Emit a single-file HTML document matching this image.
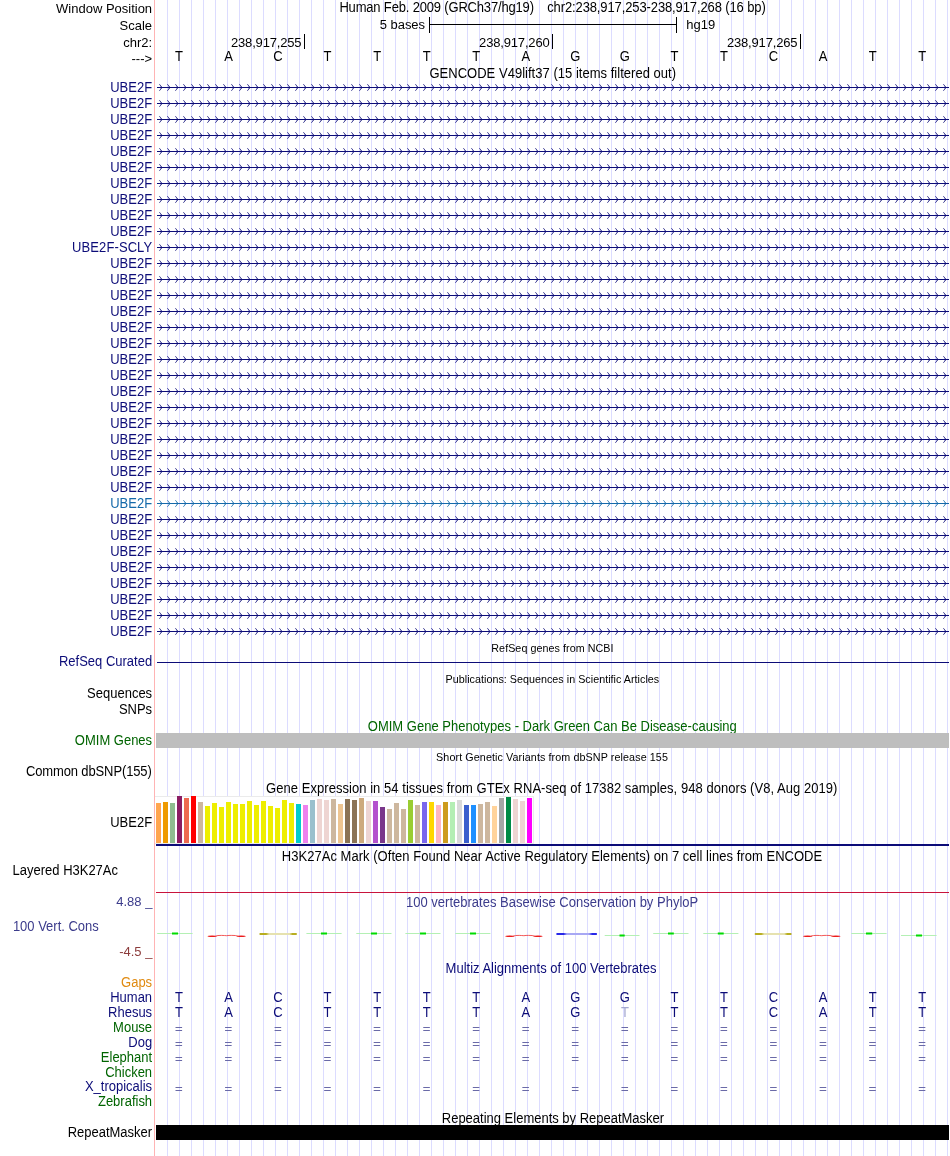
<!DOCTYPE html>
<html><head><meta charset="utf-8"><title>UCSC Genome Browser</title>
<style>
html,body{margin:0;padding:0;background:#fff;}
body{width:950px;height:1156px;overflow:hidden;}
svg{display:block;font-family:'Liberation Sans', Arial, Helvetica, sans-serif;font-size:13px;}
</style></head>
<body>
<svg width="950" height="1156" viewBox="0 0 950 1156">
<rect x="0" y="0" width="950" height="1156" fill="#fff"/>
<path d="M167.5 0V1156 M179.5 0V1156 M191.5 0V1156 M203.5 0V1156 M215.5 0V1156 M227.5 0V1156 M239.5 0V1156 M251.5 0V1156 M263.5 0V1156 M275.5 0V1156 M287.5 0V1156 M299.5 0V1156 M311.5 0V1156 M323.5 0V1156 M335.5 0V1156 M347.5 0V1156 M359.5 0V1156 M371.5 0V1156 M383.5 0V1156 M395.5 0V1156 M407.5 0V1156 M419.5 0V1156 M431.5 0V1156 M443.5 0V1156 M455.5 0V1156 M467.5 0V1156 M479.5 0V1156 M491.5 0V1156 M503.5 0V1156 M515.5 0V1156 M527.5 0V1156 M539.5 0V1156 M551.5 0V1156 M563.5 0V1156 M575.5 0V1156 M587.5 0V1156 M599.5 0V1156 M611.5 0V1156 M623.5 0V1156 M635.5 0V1156 M647.5 0V1156 M659.5 0V1156 M671.5 0V1156 M683.5 0V1156 M695.5 0V1156 M707.5 0V1156 M719.5 0V1156 M731.5 0V1156 M743.5 0V1156 M755.5 0V1156 M767.5 0V1156 M779.5 0V1156 M791.5 0V1156 M803.5 0V1156 M815.5 0V1156 M827.5 0V1156 M839.5 0V1156 M851.5 0V1156 M863.5 0V1156 M875.5 0V1156 M887.5 0V1156 M899.5 0V1156 M911.5 0V1156 M923.5 0V1156 M935.5 0V1156 M947.5 0V1156" stroke="#dcdcff" stroke-width="1" fill="none"/>
<path d="M154.5 0V1156" stroke="#ffb4b4" stroke-width="1"/>
<text transform="matrix(1,0,0,1.05,152.1,12.9)" text-anchor="end">Window Position</text>
<text transform="matrix(1,0,0,1.05,152.1,29.7)" text-anchor="end">Scale</text>
<text transform="matrix(1,0,0,1.05,152.1,46.8)" text-anchor="end">chr2:</text>
<text x="152.1" y="62.6" text-anchor="end">---&gt;</text>
<text transform="matrix(1,0,0,1.08,339.4,12.1)" textLength="194.6" lengthAdjust="spacing">Human Feb. 2009 (GRCh37/hg19)</text>
<text transform="matrix(1,0,0,1.08,547.2,12.1)" textLength="218.6" lengthAdjust="spacing">chr2:238,917,253-238,917,268 (16 bp)</text>
<text transform="matrix(1,0,0,1.02,379.8,29)" textLength="45.2" lengthAdjust="spacing">5 bases</text>
<text transform="matrix(1,0,0,1.02,686.2,29)">hg19</text>
<path d="M429.5 17V33M676.5 17V33M429.5 24.5H676.5" stroke="#000" stroke-width="1" fill="none"/>
<text x="231.0" y="47" textLength="70.6" lengthAdjust="spacing">238,917,255</text>
<path d="M304.5 34V49" stroke="#000" stroke-width="1"/>
<text x="479.1" y="47" textLength="70.6" lengthAdjust="spacing">238,917,260</text>
<path d="M552.5 34V49" stroke="#000" stroke-width="1"/>
<text x="726.9" y="47" textLength="70.6" lengthAdjust="spacing">238,917,265</text>
<path d="M800.5 34V49" stroke="#000" stroke-width="1"/>
<text transform="matrix(1,0,0,1.08,178.9,60.8)" text-anchor="middle">T</text>
<text transform="matrix(1,0,0,1.08,228.45,60.8)" text-anchor="middle">A</text>
<text transform="matrix(1,0,0,1.08,278.0,60.8)" text-anchor="middle">C</text>
<text transform="matrix(1,0,0,1.08,327.55,60.8)" text-anchor="middle">T</text>
<text transform="matrix(1,0,0,1.08,377.1,60.8)" text-anchor="middle">T</text>
<text transform="matrix(1,0,0,1.08,426.65,60.8)" text-anchor="middle">T</text>
<text transform="matrix(1,0,0,1.08,476.2,60.8)" text-anchor="middle">T</text>
<text transform="matrix(1,0,0,1.08,525.75,60.8)" text-anchor="middle">A</text>
<text transform="matrix(1,0,0,1.08,575.3,60.8)" text-anchor="middle">G</text>
<text transform="matrix(1,0,0,1.08,624.85,60.8)" text-anchor="middle">G</text>
<text transform="matrix(1,0,0,1.08,674.4,60.8)" text-anchor="middle">T</text>
<text transform="matrix(1,0,0,1.08,723.95,60.8)" text-anchor="middle">T</text>
<text transform="matrix(1,0,0,1.08,773.5,60.8)" text-anchor="middle">C</text>
<text transform="matrix(1,0,0,1.08,823.05,60.8)" text-anchor="middle">A</text>
<text transform="matrix(1,0,0,1.08,872.6,60.8)" text-anchor="middle">T</text>
<text transform="matrix(1,0,0,1.08,922.15,60.8)" text-anchor="middle">T</text>
<text transform="matrix(1,0,0,1.08,429.5,77.7)" textLength="246.6" lengthAdjust="spacing">GENCODE V49lift37 (15 items filtered out)</text>
<defs>
<pattern id="pn" patternUnits="userSpaceOnUse" x="156" y="79" width="8" height="16"><path d="M0 8.5H8" stroke="#0c0c78" stroke-width="1" fill="none"/><path d="M3.4 5.2L6 8.5L3.4 11.8M5 7.5V9.5" stroke="#0c0c78" stroke-width="0.8" fill="none"/></pattern>
<pattern id="pt" patternUnits="userSpaceOnUse" x="156" y="79" width="8" height="16"><path d="M0 8.5H8" stroke="#1469aa" stroke-width="1" fill="none"/><path d="M3.4 5.2L6 8.5L3.4 11.8M5 7.5V9.5" stroke="#1469aa" stroke-width="0.8" fill="none"/></pattern>
</defs>
<rect x="157" y="79" width="792" height="416" fill="url(#pn)"/>
<rect x="157" y="495" width="792" height="16" fill="url(#pt)"/>
<rect x="157" y="511" width="792" height="128" fill="url(#pn)"/>
<text transform="matrix(1,0,0,1.08,152.1,91.5)" text-anchor="end" fill="#0c0c78">UBE2F</text>
<text transform="matrix(1,0,0,1.08,152.1,107.5)" text-anchor="end" fill="#0c0c78">UBE2F</text>
<text transform="matrix(1,0,0,1.08,152.1,123.5)" text-anchor="end" fill="#0c0c78">UBE2F</text>
<text transform="matrix(1,0,0,1.08,152.1,139.5)" text-anchor="end" fill="#0c0c78">UBE2F</text>
<text transform="matrix(1,0,0,1.08,152.1,155.5)" text-anchor="end" fill="#0c0c78">UBE2F</text>
<text transform="matrix(1,0,0,1.08,152.1,171.5)" text-anchor="end" fill="#0c0c78">UBE2F</text>
<text transform="matrix(1,0,0,1.08,152.1,187.5)" text-anchor="end" fill="#0c0c78">UBE2F</text>
<text transform="matrix(1,0,0,1.08,152.1,203.5)" text-anchor="end" fill="#0c0c78">UBE2F</text>
<text transform="matrix(1,0,0,1.08,152.1,219.5)" text-anchor="end" fill="#0c0c78">UBE2F</text>
<text transform="matrix(1,0,0,1.08,152.1,235.5)" text-anchor="end" fill="#0c0c78">UBE2F</text>
<text transform="matrix(1,0,0,1.08,152.1,251.5)" text-anchor="end" fill="#0c0c78" textLength="80.0" lengthAdjust="spacing">UBE2F-SCLY</text>
<text transform="matrix(1,0,0,1.08,152.1,267.5)" text-anchor="end" fill="#0c0c78">UBE2F</text>
<text transform="matrix(1,0,0,1.08,152.1,283.5)" text-anchor="end" fill="#0c0c78">UBE2F</text>
<text transform="matrix(1,0,0,1.08,152.1,299.5)" text-anchor="end" fill="#0c0c78">UBE2F</text>
<text transform="matrix(1,0,0,1.08,152.1,315.5)" text-anchor="end" fill="#0c0c78">UBE2F</text>
<text transform="matrix(1,0,0,1.08,152.1,331.5)" text-anchor="end" fill="#0c0c78">UBE2F</text>
<text transform="matrix(1,0,0,1.08,152.1,347.5)" text-anchor="end" fill="#0c0c78">UBE2F</text>
<text transform="matrix(1,0,0,1.08,152.1,363.5)" text-anchor="end" fill="#0c0c78">UBE2F</text>
<text transform="matrix(1,0,0,1.08,152.1,379.5)" text-anchor="end" fill="#0c0c78">UBE2F</text>
<text transform="matrix(1,0,0,1.08,152.1,395.5)" text-anchor="end" fill="#0c0c78">UBE2F</text>
<text transform="matrix(1,0,0,1.08,152.1,411.5)" text-anchor="end" fill="#0c0c78">UBE2F</text>
<text transform="matrix(1,0,0,1.08,152.1,427.5)" text-anchor="end" fill="#0c0c78">UBE2F</text>
<text transform="matrix(1,0,0,1.08,152.1,443.5)" text-anchor="end" fill="#0c0c78">UBE2F</text>
<text transform="matrix(1,0,0,1.08,152.1,459.5)" text-anchor="end" fill="#0c0c78">UBE2F</text>
<text transform="matrix(1,0,0,1.08,152.1,475.5)" text-anchor="end" fill="#0c0c78">UBE2F</text>
<text transform="matrix(1,0,0,1.08,152.1,491.5)" text-anchor="end" fill="#0c0c78">UBE2F</text>
<text transform="matrix(1,0,0,1.08,152.1,507.5)" text-anchor="end" fill="#1469aa">UBE2F</text>
<text transform="matrix(1,0,0,1.08,152.1,523.5)" text-anchor="end" fill="#0c0c78">UBE2F</text>
<text transform="matrix(1,0,0,1.08,152.1,539.5)" text-anchor="end" fill="#0c0c78">UBE2F</text>
<text transform="matrix(1,0,0,1.08,152.1,555.5)" text-anchor="end" fill="#0c0c78">UBE2F</text>
<text transform="matrix(1,0,0,1.08,152.1,571.5)" text-anchor="end" fill="#0c0c78">UBE2F</text>
<text transform="matrix(1,0,0,1.08,152.1,587.5)" text-anchor="end" fill="#0c0c78">UBE2F</text>
<text transform="matrix(1,0,0,1.08,152.1,603.5)" text-anchor="end" fill="#0c0c78">UBE2F</text>
<text transform="matrix(1,0,0,1.08,152.1,619.5)" text-anchor="end" fill="#0c0c78">UBE2F</text>
<text transform="matrix(1,0,0,1.08,152.1,635.5)" text-anchor="end" fill="#0c0c78">UBE2F</text>
<text transform="matrix(1,0,0,1.08,491.3,652)" font-size="10.75" textLength="122.2" lengthAdjust="spacing">RefSeq genes from NCBI</text>
<text transform="matrix(1,0,0,1.08,152.1,666.4)" text-anchor="end" fill="#0c0c78">RefSeq Curated</text>
<path d="M157 662.5H949" stroke="#0c0c78" stroke-width="1"/>
<text transform="matrix(1,0,0,1.08,445.6,682.7)" font-size="10.75" textLength="213.6" lengthAdjust="spacing">Publications: Sequences in Scientific Articles</text>
<text transform="matrix(1,0,0,1.08,152.1,697.7)" text-anchor="end">Sequences</text>
<text transform="matrix(1,0,0,1.08,152.1,713.6)" text-anchor="end">SNPs</text>
<text transform="matrix(1,0,0,1.08,367.8,730.9)" fill="#006400" textLength="369.0" lengthAdjust="spacing">OMIM Gene Phenotypes - Dark Green Can Be Disease-causing</text>
<text transform="matrix(1,0,0,1.08,152.1,744.8)" text-anchor="end" fill="#006400">OMIM Genes</text>
<rect x="156" y="733" width="793" height="15" fill="#bebebe"/>
<text transform="matrix(1,0,0,1.08,436.1,760.9)" font-size="10.75" textLength="231.8" lengthAdjust="spacing">Short Genetic Variants from dbSNP release 155</text>
<text transform="matrix(1,0,0,1.08,25.9,775.8)" textLength="125.9" lengthAdjust="spacing">Common dbSNP(155)</text>
<text transform="matrix(1,0,0,1.08,266.1,792.8)" textLength="571.3" lengthAdjust="spacing">Gene Expression in 54 tissues from GTEx RNA-seq of 17382 samples, 948 donors (V8, Aug 2019)</text>
<text transform="matrix(1,0,0,1.08,152.1,826.9)" text-anchor="end">UBE2F</text>
<rect x="155" y="796" width="379" height="48" fill="#fff"/>
<path d="M155 796.5H533.5V843.5H155" stroke="#ebebeb" stroke-width="1" fill="none"/>
<rect x="156" y="803" width="5" height="40" fill="#FFA54F"/>
<rect x="163" y="802" width="5" height="41" fill="#EE9A00"/>
<rect x="170" y="803" width="5" height="40" fill="#8FBC8F"/>
<rect x="177" y="796" width="5" height="47" fill="#8B1C62"/>
<rect x="184" y="798" width="5" height="45" fill="#EE6A50"/>
<rect x="191" y="796" width="5" height="47" fill="#FF0000"/>
<rect x="198" y="802" width="5" height="41" fill="#CDB79E"/>
<rect x="205" y="806" width="5" height="37" fill="#EEEE00"/>
<rect x="212" y="803" width="5" height="40" fill="#EEEE00"/>
<rect x="219" y="807" width="5" height="36" fill="#EEEE00"/>
<rect x="226" y="802" width="5" height="41" fill="#EEEE00"/>
<rect x="233" y="804" width="5" height="39" fill="#EEEE00"/>
<rect x="240" y="804" width="5" height="39" fill="#EEEE00"/>
<rect x="247" y="801" width="5" height="42" fill="#EEEE00"/>
<rect x="254" y="805" width="5" height="38" fill="#EEEE00"/>
<rect x="261" y="801" width="5" height="42" fill="#EEEE00"/>
<rect x="268" y="806" width="5" height="37" fill="#EEEE00"/>
<rect x="275" y="808" width="5" height="35" fill="#EEEE00"/>
<rect x="282" y="800" width="5" height="43" fill="#EEEE00"/>
<rect x="289" y="803" width="5" height="40" fill="#EEEE00"/>
<rect x="296" y="804" width="5" height="39" fill="#00CDCD"/>
<rect x="303" y="805" width="5" height="38" fill="#EE82EE"/>
<rect x="310" y="800" width="5" height="43" fill="#9AC0CD"/>
<rect x="317" y="799" width="5" height="44" fill="#EED5D2"/>
<rect x="324" y="800" width="5" height="43" fill="#EED5D2"/>
<rect x="331" y="799" width="5" height="44" fill="#CDB79E"/>
<rect x="338" y="804" width="5" height="39" fill="#EEC591"/>
<rect x="345" y="799" width="5" height="44" fill="#8B7355"/>
<rect x="352" y="800" width="5" height="43" fill="#8B7355"/>
<rect x="359" y="798" width="5" height="45" fill="#CDAA7D"/>
<rect x="366" y="801" width="5" height="42" fill="#EED5D2"/>
<rect x="373" y="801" width="5" height="42" fill="#B452CD"/>
<rect x="380" y="807" width="5" height="36" fill="#7A378B"/>
<rect x="387" y="809" width="5" height="34" fill="#CDB79E"/>
<rect x="394" y="803" width="5" height="40" fill="#CDB79E"/>
<rect x="401" y="809" width="5" height="34" fill="#CDB79E"/>
<rect x="408" y="800" width="5" height="43" fill="#9ACD32"/>
<rect x="415" y="805" width="5" height="38" fill="#CDB79E"/>
<rect x="422" y="802" width="5" height="41" fill="#7A67EE"/>
<rect x="429" y="802" width="5" height="41" fill="#FFD700"/>
<rect x="436" y="805" width="5" height="38" fill="#FFB6C1"/>
<rect x="443" y="802" width="5" height="41" fill="#CD9B1D"/>
<rect x="450" y="802" width="5" height="41" fill="#B4EEB4"/>
<rect x="457" y="800" width="5" height="43" fill="#D9D9D9"/>
<rect x="464" y="805" width="5" height="38" fill="#3A5FCD"/>
<rect x="471" y="805" width="5" height="38" fill="#1E90FF"/>
<rect x="478" y="804" width="5" height="39" fill="#CDB79E"/>
<rect x="485" y="802" width="5" height="41" fill="#CDB79E"/>
<rect x="492" y="806" width="5" height="37" fill="#FFD39B"/>
<rect x="499" y="798" width="5" height="45" fill="#A6A6A6"/>
<rect x="506" y="797" width="5" height="46" fill="#008B45"/>
<rect x="513" y="799" width="5" height="44" fill="#EED5D2"/>
<rect x="520" y="801" width="5" height="42" fill="#EED5D2"/>
<rect x="527" y="798" width="5" height="45" fill="#FF00FF"/>
<rect x="156" y="844" width="793" height="2" fill="#0c0c78"/>
<text transform="matrix(1,0,0,1.08,281.8,861)" textLength="540.4" lengthAdjust="spacing">H3K27Ac Mark (Often Found Near Active Regulatory Elements) on 7 cell lines from ENCODE</text>
<text transform="matrix(1,0,0,1.08,12.6,874.6)">Layered H3K27Ac</text>
<path d="M156 892.5H949" stroke="#c8143c" stroke-width="1"/>
<text transform="matrix(1,0,0,1.08,406.0,906.6)" fill="#3c3c8c" textLength="292.2" lengthAdjust="spacing">100 vertebrates Basewise Conservation by PhyloP</text>
<text x="152.4" y="906" text-anchor="end" fill="#3c3c8c">4.88 _</text>
<text transform="matrix(1,0,0,1.08,12.9,930.8)" fill="#3c3c8c">100 Vert. Cons</text>
<text x="152.4" y="956.3" text-anchor="end" fill="#8c3c3c">-4.5 _</text>
<rect x="157.2" y="933" width="35.400000000000006" height="1" fill="#b4f0b4"/>
<rect x="172" y="932.5" width="6" height="2" fill="#00dc00"/>
<rect x="306.4" y="933" width="35.200000000000045" height="1" fill="#b4f0b4"/>
<rect x="321" y="932.5" width="6" height="2" fill="#00dc00"/>
<rect x="356.3" y="933" width="35.19999999999999" height="1" fill="#b4f0b4"/>
<rect x="371" y="932.5" width="6" height="2" fill="#00dc00"/>
<rect x="405.4" y="933" width="35.10000000000002" height="1" fill="#b4f0b4"/>
<rect x="420" y="932.5" width="6" height="2" fill="#00dc00"/>
<rect x="455.3" y="933" width="35.099999999999966" height="1" fill="#b4f0b4"/>
<rect x="470" y="932.5" width="6" height="2" fill="#00dc00"/>
<rect x="604.7" y="935" width="34.799999999999955" height="1" fill="#b4f0b4"/>
<rect x="619.5" y="934.5" width="5.2000000000000455" height="2" fill="#00dc00"/>
<rect x="653.2" y="933" width="35.299999999999955" height="1" fill="#b4f0b4"/>
<rect x="668" y="932.5" width="5.7999999999999545" height="2" fill="#00dc00"/>
<rect x="703.3" y="933" width="35.10000000000002" height="1" fill="#b4f0b4"/>
<rect x="717.8" y="932.5" width="5.900000000000091" height="2" fill="#00dc00"/>
<rect x="851.3" y="933" width="35.30000000000007" height="1" fill="#b4f0b4"/>
<rect x="866" y="932.5" width="6.2000000000000455" height="2" fill="#00dc00"/>
<rect x="901" y="935" width="35.60000000000002" height="1" fill="#b4f0b4"/>
<rect x="916" y="934.5" width="6" height="2" fill="#00dc00"/>
<ellipse cx="212.1" cy="936.2" rx="4.6" ry="0.8" fill="#ec1c1c"/>
<ellipse cx="241.2" cy="936.2" rx="4.6" ry="0.8" fill="#ec1c1c"/>
<path d="M215.5 936.1Q217.5 935.3 221.5 935.4Q224.7 935.5 226.7 935.7Q228.7 935.3 231.8 935.4Q235.8 935.3 237.8 936.1" stroke="#f03030" stroke-width="1" fill="none" opacity="0.8"/>
<ellipse cx="509.8" cy="936.2" rx="4.6" ry="0.8" fill="#ec1c1c"/>
<ellipse cx="538.0" cy="936.2" rx="4.6" ry="0.8" fill="#ec1c1c"/>
<path d="M513.2 936.1Q515.2 935.3 519.2 935.4Q521.9 935.5 523.9 935.7Q525.9 935.3 528.6 935.4Q532.6 935.3 534.6 936.1" stroke="#f03030" stroke-width="1" fill="none" opacity="0.8"/>
<ellipse cx="807.6" cy="936.2" rx="4.6" ry="0.8" fill="#ec1c1c"/>
<ellipse cx="835.9" cy="936.2" rx="4.6" ry="0.8" fill="#ec1c1c"/>
<path d="M811.0 936.1Q813.0 935.3 817.0 935.4Q819.8 935.5 821.8 935.7Q823.8 935.3 826.5 935.4Q830.5 935.3 832.5 936.1" stroke="#f03030" stroke-width="1" fill="none" opacity="0.8"/>
<linearGradient id="go1" x1="0" x2="1" y1="0" y2="0"><stop offset="0" stop-color="#b8ae20"/><stop offset="0.18" stop-color="#b8ae20"/><stop offset="0.26" stop-color="#e6e2b0"/><stop offset="0.8" stop-color="#e6e2b0"/><stop offset="0.88" stop-color="#b8ae20"/><stop offset="1" stop-color="#b8ae20"/></linearGradient>
<rect x="259.3" y="933" width="37.69999999999999" height="2" rx="1" fill="url(#go1)"/>
<linearGradient id="go2" x1="0" x2="1" y1="0" y2="0"><stop offset="0" stop-color="#b8ae20"/><stop offset="0.18" stop-color="#b8ae20"/><stop offset="0.26" stop-color="#e6e2b0"/><stop offset="0.8" stop-color="#e6e2b0"/><stop offset="0.88" stop-color="#b8ae20"/><stop offset="1" stop-color="#b8ae20"/></linearGradient>
<rect x="754.6" y="933" width="37.10000000000002" height="2" rx="1" fill="url(#go2)"/>
<linearGradient id="gb1" x1="0" x2="1" y1="0" y2="0"><stop offset="0" stop-color="#2828e8"/><stop offset="0.18" stop-color="#2828e8"/><stop offset="0.26" stop-color="#a8a8f4"/><stop offset="0.8" stop-color="#a8a8f4"/><stop offset="0.88" stop-color="#2828e8"/><stop offset="1" stop-color="#2828e8"/></linearGradient>
<rect x="556.2" y="933" width="40.89999999999998" height="2" rx="1" fill="url(#gb1)"/>
<text transform="matrix(1,0,0,1.08,445.6,972.8)" fill="#0c0c78">Multiz Alignments of 100 Vertebrates</text>
<text transform="matrix(1,0,0,1.08,152.1,986.8)" text-anchor="end" fill="#e08a10">Gaps</text>
<text transform="matrix(1,0,0,1.08,152.1,1001.75)" text-anchor="end" fill="#0c0c78">Human</text>
<text transform="matrix(1,0,0,1.08,152.1,1016.7)" text-anchor="end" fill="#0c0c78">Rhesus</text>
<text transform="matrix(1,0,0,1.08,152.1,1031.65)" text-anchor="end" fill="#006400">Mouse</text>
<text transform="matrix(1,0,0,1.08,152.1,1046.6)" text-anchor="end" fill="#0c0c78">Dog</text>
<text transform="matrix(1,0,0,1.08,152.1,1061.55)" text-anchor="end" fill="#006400">Elephant</text>
<text transform="matrix(1,0,0,1.08,152.1,1076.5)" text-anchor="end" fill="#006400">Chicken</text>
<text transform="matrix(1,0,0,1.08,152.1,1091.45)" text-anchor="end" fill="#0c0c78">X_tropicalis</text>
<text transform="matrix(1,0,0,1.08,152.1,1106.4)" text-anchor="end" fill="#006400">Zebrafish</text>
<text transform="matrix(1,0,0,1.08,178.9,1001.8)" text-anchor="middle" fill="#0c0c78">T</text>
<text transform="matrix(1,0,0,1.08,178.9,1016.7)" text-anchor="middle" fill="#0c0c78">T</text>
<path d="M175.5 1027.5H182.1M175.5 1030.5H182.1" stroke="#6a6aa8" stroke-width="1"/>
<path d="M175.5 1042.5H182.1M175.5 1045.5H182.1" stroke="#6a6aa8" stroke-width="1"/>
<path d="M175.5 1057.5H182.1M175.5 1060.5H182.1" stroke="#6a6aa8" stroke-width="1"/>
<path d="M175.5 1087.5H182.1M175.5 1090.5H182.1" stroke="#6a6aa8" stroke-width="1"/>
<text transform="matrix(1,0,0,1.08,228.45,1001.8)" text-anchor="middle" fill="#0c0c78">A</text>
<text transform="matrix(1,0,0,1.08,228.45,1016.7)" text-anchor="middle" fill="#0c0c78">A</text>
<path d="M225.04999999999998 1027.5H231.64999999999998M225.04999999999998 1030.5H231.64999999999998" stroke="#6a6aa8" stroke-width="1"/>
<path d="M225.04999999999998 1042.5H231.64999999999998M225.04999999999998 1045.5H231.64999999999998" stroke="#6a6aa8" stroke-width="1"/>
<path d="M225.04999999999998 1057.5H231.64999999999998M225.04999999999998 1060.5H231.64999999999998" stroke="#6a6aa8" stroke-width="1"/>
<path d="M225.04999999999998 1087.5H231.64999999999998M225.04999999999998 1090.5H231.64999999999998" stroke="#6a6aa8" stroke-width="1"/>
<text transform="matrix(1,0,0,1.08,278.0,1001.8)" text-anchor="middle" fill="#0c0c78">C</text>
<text transform="matrix(1,0,0,1.08,278.0,1016.7)" text-anchor="middle" fill="#0c0c78">C</text>
<path d="M274.6 1027.5H281.2M274.6 1030.5H281.2" stroke="#6a6aa8" stroke-width="1"/>
<path d="M274.6 1042.5H281.2M274.6 1045.5H281.2" stroke="#6a6aa8" stroke-width="1"/>
<path d="M274.6 1057.5H281.2M274.6 1060.5H281.2" stroke="#6a6aa8" stroke-width="1"/>
<path d="M274.6 1087.5H281.2M274.6 1090.5H281.2" stroke="#6a6aa8" stroke-width="1"/>
<text transform="matrix(1,0,0,1.08,327.55,1001.8)" text-anchor="middle" fill="#0c0c78">T</text>
<text transform="matrix(1,0,0,1.08,327.55,1016.7)" text-anchor="middle" fill="#0c0c78">T</text>
<path d="M324.15000000000003 1027.5H330.75M324.15000000000003 1030.5H330.75" stroke="#6a6aa8" stroke-width="1"/>
<path d="M324.15000000000003 1042.5H330.75M324.15000000000003 1045.5H330.75" stroke="#6a6aa8" stroke-width="1"/>
<path d="M324.15000000000003 1057.5H330.75M324.15000000000003 1060.5H330.75" stroke="#6a6aa8" stroke-width="1"/>
<path d="M324.15000000000003 1087.5H330.75M324.15000000000003 1090.5H330.75" stroke="#6a6aa8" stroke-width="1"/>
<text transform="matrix(1,0,0,1.08,377.1,1001.8)" text-anchor="middle" fill="#0c0c78">T</text>
<text transform="matrix(1,0,0,1.08,377.1,1016.7)" text-anchor="middle" fill="#0c0c78">T</text>
<path d="M373.70000000000005 1027.5H380.3M373.70000000000005 1030.5H380.3" stroke="#6a6aa8" stroke-width="1"/>
<path d="M373.70000000000005 1042.5H380.3M373.70000000000005 1045.5H380.3" stroke="#6a6aa8" stroke-width="1"/>
<path d="M373.70000000000005 1057.5H380.3M373.70000000000005 1060.5H380.3" stroke="#6a6aa8" stroke-width="1"/>
<path d="M373.70000000000005 1087.5H380.3M373.70000000000005 1090.5H380.3" stroke="#6a6aa8" stroke-width="1"/>
<text transform="matrix(1,0,0,1.08,426.65,1001.8)" text-anchor="middle" fill="#0c0c78">T</text>
<text transform="matrix(1,0,0,1.08,426.65,1016.7)" text-anchor="middle" fill="#0c0c78">T</text>
<path d="M423.25 1027.5H429.84999999999997M423.25 1030.5H429.84999999999997" stroke="#6a6aa8" stroke-width="1"/>
<path d="M423.25 1042.5H429.84999999999997M423.25 1045.5H429.84999999999997" stroke="#6a6aa8" stroke-width="1"/>
<path d="M423.25 1057.5H429.84999999999997M423.25 1060.5H429.84999999999997" stroke="#6a6aa8" stroke-width="1"/>
<path d="M423.25 1087.5H429.84999999999997M423.25 1090.5H429.84999999999997" stroke="#6a6aa8" stroke-width="1"/>
<text transform="matrix(1,0,0,1.08,476.2,1001.8)" text-anchor="middle" fill="#0c0c78">T</text>
<text transform="matrix(1,0,0,1.08,476.2,1016.7)" text-anchor="middle" fill="#0c0c78">T</text>
<path d="M472.8 1027.5H479.4M472.8 1030.5H479.4" stroke="#6a6aa8" stroke-width="1"/>
<path d="M472.8 1042.5H479.4M472.8 1045.5H479.4" stroke="#6a6aa8" stroke-width="1"/>
<path d="M472.8 1057.5H479.4M472.8 1060.5H479.4" stroke="#6a6aa8" stroke-width="1"/>
<path d="M472.8 1087.5H479.4M472.8 1090.5H479.4" stroke="#6a6aa8" stroke-width="1"/>
<text transform="matrix(1,0,0,1.08,525.75,1001.8)" text-anchor="middle" fill="#0c0c78">A</text>
<text transform="matrix(1,0,0,1.08,525.75,1016.7)" text-anchor="middle" fill="#0c0c78">A</text>
<path d="M522.35 1027.5H528.95M522.35 1030.5H528.95" stroke="#6a6aa8" stroke-width="1"/>
<path d="M522.35 1042.5H528.95M522.35 1045.5H528.95" stroke="#6a6aa8" stroke-width="1"/>
<path d="M522.35 1057.5H528.95M522.35 1060.5H528.95" stroke="#6a6aa8" stroke-width="1"/>
<path d="M522.35 1087.5H528.95M522.35 1090.5H528.95" stroke="#6a6aa8" stroke-width="1"/>
<text transform="matrix(1,0,0,1.08,575.3,1001.8)" text-anchor="middle" fill="#0c0c78">G</text>
<text transform="matrix(1,0,0,1.08,575.3,1016.7)" text-anchor="middle" fill="#0c0c78">G</text>
<path d="M571.9 1027.5H578.5M571.9 1030.5H578.5" stroke="#6a6aa8" stroke-width="1"/>
<path d="M571.9 1042.5H578.5M571.9 1045.5H578.5" stroke="#6a6aa8" stroke-width="1"/>
<path d="M571.9 1057.5H578.5M571.9 1060.5H578.5" stroke="#6a6aa8" stroke-width="1"/>
<path d="M571.9 1087.5H578.5M571.9 1090.5H578.5" stroke="#6a6aa8" stroke-width="1"/>
<text transform="matrix(1,0,0,1.08,624.85,1001.8)" text-anchor="middle" fill="#0c0c78">G</text>
<text transform="matrix(1,0,0,1.08,624.85,1016.7)" text-anchor="middle" fill="#a4a8d0">T</text>
<path d="M621.45 1027.5H628.0500000000001M621.45 1030.5H628.0500000000001" stroke="#6a6aa8" stroke-width="1"/>
<path d="M621.45 1042.5H628.0500000000001M621.45 1045.5H628.0500000000001" stroke="#6a6aa8" stroke-width="1"/>
<path d="M621.45 1057.5H628.0500000000001M621.45 1060.5H628.0500000000001" stroke="#6a6aa8" stroke-width="1"/>
<path d="M621.45 1087.5H628.0500000000001M621.45 1090.5H628.0500000000001" stroke="#6a6aa8" stroke-width="1"/>
<text transform="matrix(1,0,0,1.08,674.4,1001.8)" text-anchor="middle" fill="#0c0c78">T</text>
<text transform="matrix(1,0,0,1.08,674.4,1016.7)" text-anchor="middle" fill="#0c0c78">T</text>
<path d="M671.0 1027.5H677.6M671.0 1030.5H677.6" stroke="#6a6aa8" stroke-width="1"/>
<path d="M671.0 1042.5H677.6M671.0 1045.5H677.6" stroke="#6a6aa8" stroke-width="1"/>
<path d="M671.0 1057.5H677.6M671.0 1060.5H677.6" stroke="#6a6aa8" stroke-width="1"/>
<path d="M671.0 1087.5H677.6M671.0 1090.5H677.6" stroke="#6a6aa8" stroke-width="1"/>
<text transform="matrix(1,0,0,1.08,723.95,1001.8)" text-anchor="middle" fill="#0c0c78">T</text>
<text transform="matrix(1,0,0,1.08,723.95,1016.7)" text-anchor="middle" fill="#0c0c78">T</text>
<path d="M720.5500000000001 1027.5H727.1500000000001M720.5500000000001 1030.5H727.1500000000001" stroke="#6a6aa8" stroke-width="1"/>
<path d="M720.5500000000001 1042.5H727.1500000000001M720.5500000000001 1045.5H727.1500000000001" stroke="#6a6aa8" stroke-width="1"/>
<path d="M720.5500000000001 1057.5H727.1500000000001M720.5500000000001 1060.5H727.1500000000001" stroke="#6a6aa8" stroke-width="1"/>
<path d="M720.5500000000001 1087.5H727.1500000000001M720.5500000000001 1090.5H727.1500000000001" stroke="#6a6aa8" stroke-width="1"/>
<text transform="matrix(1,0,0,1.08,773.5,1001.8)" text-anchor="middle" fill="#0c0c78">C</text>
<text transform="matrix(1,0,0,1.08,773.5,1016.7)" text-anchor="middle" fill="#0c0c78">C</text>
<path d="M770.1 1027.5H776.7M770.1 1030.5H776.7" stroke="#6a6aa8" stroke-width="1"/>
<path d="M770.1 1042.5H776.7M770.1 1045.5H776.7" stroke="#6a6aa8" stroke-width="1"/>
<path d="M770.1 1057.5H776.7M770.1 1060.5H776.7" stroke="#6a6aa8" stroke-width="1"/>
<path d="M770.1 1087.5H776.7M770.1 1090.5H776.7" stroke="#6a6aa8" stroke-width="1"/>
<text transform="matrix(1,0,0,1.08,823.05,1001.8)" text-anchor="middle" fill="#0c0c78">A</text>
<text transform="matrix(1,0,0,1.08,823.05,1016.7)" text-anchor="middle" fill="#0c0c78">A</text>
<path d="M819.65 1027.5H826.25M819.65 1030.5H826.25" stroke="#6a6aa8" stroke-width="1"/>
<path d="M819.65 1042.5H826.25M819.65 1045.5H826.25" stroke="#6a6aa8" stroke-width="1"/>
<path d="M819.65 1057.5H826.25M819.65 1060.5H826.25" stroke="#6a6aa8" stroke-width="1"/>
<path d="M819.65 1087.5H826.25M819.65 1090.5H826.25" stroke="#6a6aa8" stroke-width="1"/>
<text transform="matrix(1,0,0,1.08,872.6,1001.8)" text-anchor="middle" fill="#0c0c78">T</text>
<text transform="matrix(1,0,0,1.08,872.6,1016.7)" text-anchor="middle" fill="#0c0c78">T</text>
<path d="M869.2 1027.5H875.8000000000001M869.2 1030.5H875.8000000000001" stroke="#6a6aa8" stroke-width="1"/>
<path d="M869.2 1042.5H875.8000000000001M869.2 1045.5H875.8000000000001" stroke="#6a6aa8" stroke-width="1"/>
<path d="M869.2 1057.5H875.8000000000001M869.2 1060.5H875.8000000000001" stroke="#6a6aa8" stroke-width="1"/>
<path d="M869.2 1087.5H875.8000000000001M869.2 1090.5H875.8000000000001" stroke="#6a6aa8" stroke-width="1"/>
<text transform="matrix(1,0,0,1.08,922.15,1001.8)" text-anchor="middle" fill="#0c0c78">T</text>
<text transform="matrix(1,0,0,1.08,922.15,1016.7)" text-anchor="middle" fill="#0c0c78">T</text>
<path d="M918.75 1027.5H925.35M918.75 1030.5H925.35" stroke="#6a6aa8" stroke-width="1"/>
<path d="M918.75 1042.5H925.35M918.75 1045.5H925.35" stroke="#6a6aa8" stroke-width="1"/>
<path d="M918.75 1057.5H925.35M918.75 1060.5H925.35" stroke="#6a6aa8" stroke-width="1"/>
<path d="M918.75 1087.5H925.35M918.75 1090.5H925.35" stroke="#6a6aa8" stroke-width="1"/>
<text transform="matrix(1,0,0,1.08,441.8,1122.8)">Repeating Elements by RepeatMasker</text>
<text transform="matrix(1,0,0,1.08,152.1,1136.7)" text-anchor="end">RepeatMasker</text>
<rect x="156" y="1125" width="793" height="15" fill="#000"/>
</svg>
</body></html>
